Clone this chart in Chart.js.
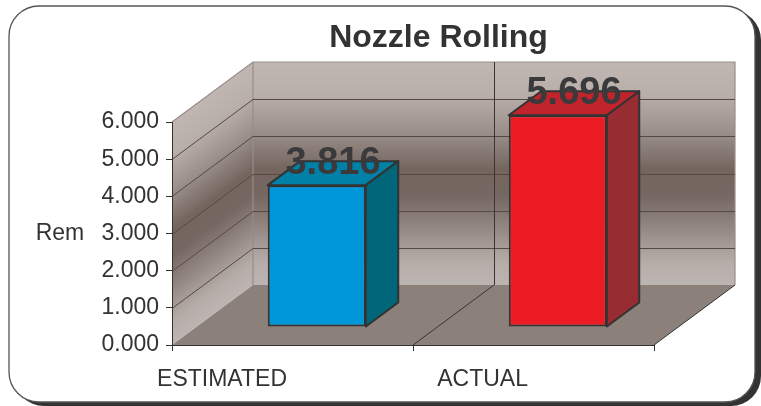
<!DOCTYPE html>
<html>
<head>
<meta charset="utf-8">
<title>Nozzle Rolling</title>
<script src="https://cdn.jsdelivr.net/npm/chart.js@4/dist/chart.umd.min.js"></script>
<style>
  html, body { margin: 0; padding: 0; background: #fff; }
  canvas { display: block; }
</style>
</head>
<body>
<canvas id="chart" width="761" height="406"></canvas>
<script>
// ---- data ----
const chartTitle = 'Nozzle Rolling';
const axisTitle = 'Rem';
const categories = ['ESTIMATED', 'ACTUAL'];
const remValues = [3.816, 5.696];
const yTicks = [0, 1, 2, 3, 4, 5, 6];

// ---- styling ----
const FONT = '"Liberation Sans", Arial, Helvetica, sans-serif';
const TEXT = '#333333';
const barFront = ['#0096DA', '#ED1C24'];
const barTop = ['#0181A8', '#C2242B'];
const barSide = ['#00667A', '#972D33'];
const DEPTH = { dx: 81, dy: -60 };     // offset of the back wall from the front plane
const BAR_NEAR = 0.3, BAR_FAR = 0.7;   // depth slice occupied by the bars

function roundRect(ctx, x, y, w, h, r) {
  ctx.beginPath();
  ctx.moveTo(x + r, y);
  ctx.arcTo(x + w, y, x + w, y + h, r);
  ctx.arcTo(x + w, y + h, x, y + h, r);
  ctx.arcTo(x, y + h, x, y, r);
  ctx.arcTo(x, y, x + w, y, r);
  ctx.closePath();
}

function wallGradient(ctx, y0, y1) {
  const g = ctx.createLinearGradient(0, y0, 0, y1);
  g.addColorStop(0.00, '#c0b7b3');
  g.addColorStop(0.15, '#b8aeaa');
  g.addColorStop(0.32, '#9a8e8a');
  g.addColorStop(0.48, '#74665f');
  g.addColorStop(0.60, '#756761');
  g.addColorStop(0.76, '#978b87');
  g.addColorStop(0.90, '#b6ada9');
  g.addColorStop(1.00, '#bdb5b1');
  return g;
}

// Frame, walls, floor and gridlines behind everything else
const backdrop = {
  id: 'backdrop',
  beforeDraw(chart) {
    const ctx = chart.ctx;
    const xs = chart.scales.x, ys = chart.scales.y;
    const L = xs.left, R = xs.right;
    const yTop = ys.getPixelForValue(ys.max);
    const yBase = ys.getPixelForValue(ys.min);
    const { dx, dy } = DEPTH;

    ctx.save();
    // rounded frame with a dark drop shadow
    ctx.fillStyle = '#333';
    roundRect(ctx, 14, 10, 747, 396, 30);
    ctx.fill();
    ctx.fillStyle = '#fff';
    roundRect(ctx, 9, 6, 746, 396, 30);
    ctx.fill();
    ctx.strokeStyle = '#555';
    ctx.lineWidth = 1.3;
    ctx.stroke();

    // side wall (gradient skewed along the wall)
    ctx.save();
    ctx.transform(1, dy / dx, 0, 1, L, 0);
    ctx.fillStyle = wallGradient(ctx, yTop, yBase);
    ctx.fillRect(0, yTop, dx, yBase - yTop);
    ctx.restore();

    // back wall
    ctx.fillStyle = wallGradient(ctx, yTop + dy, yBase + dy);
    ctx.fillRect(L + dx, yTop + dy, R - L, yBase - yTop);

    // floor
    ctx.fillStyle = '#8c807b';
    ctx.beginPath();
    ctx.moveTo(L, yBase);
    ctx.lineTo(L + dx, yBase + dy);
    ctx.lineTo(R + dx, yBase + dy);
    ctx.lineTo(R, yBase);
    ctx.closePath();
    ctx.fill();

    // light outline of the walls
    ctx.strokeStyle = '#988c88';
    ctx.lineWidth = 1.2;
    ctx.beginPath();
    ctx.moveTo(L, yTop);
    ctx.lineTo(L + dx, yTop + dy);
    ctx.lineTo(R + dx, yTop + dy);
    ctx.lineTo(R + dx, yBase + dy);
    ctx.moveTo(L + dx, yTop + dy);
    ctx.lineTo(L + dx, yBase + dy);
    ctx.stroke();

    // horizontal gridlines on side and back walls
    ctx.strokeStyle = '#544945';
    ctx.lineWidth = 1;
    ys.ticks.forEach(t => {
      if (t.value <= ys.min || t.value >= ys.max) return;
      const py = Math.round(ys.getPixelForValue(t.value)) + 0.5;
      ctx.beginPath();
      ctx.moveTo(L, py);
      ctx.lineTo(L + dx, py + dy);
      ctx.lineTo(R + dx, py + dy);
      ctx.stroke();
    });

    // category dividers on the back wall and floor
    ctx.strokeStyle = '#3b3434';
    for (let i = 0; i < categories.length - 1; i++) {
      const b = (xs.getPixelForValue(i) + xs.getPixelForValue(i + 1)) / 2;
      const bx = Math.round(b + dx) + 0.5;
      ctx.beginPath();
      ctx.moveTo(bx, yTop + dy);
      ctx.lineTo(bx, yBase + dy);
      ctx.moveTo(b, yBase);
      ctx.lineTo(b + dx, yBase + dy);
      ctx.stroke();
    }
    // right edge of the floor
    ctx.strokeStyle = '#333';
    ctx.beginPath();
    ctx.moveTo(R, yBase);
    ctx.lineTo(R + dx, yBase + dy);
    ctx.stroke();
    ctx.restore();
  }
};

// Bars are drawn by Chart.js inside the depth slice, then given a top and a side
const bars3d = {
  id: 'bars3d',
  beforeDatasetsDraw(chart) {
    chart.ctx.save();
    chart.ctx.translate(BAR_NEAR * DEPTH.dx, BAR_NEAR * DEPTH.dy);
  },
  afterDatasetsDraw(chart) {
    const ctx = chart.ctx;
    const meta = chart.getDatasetMeta(0);
    const bdx = (BAR_FAR - BAR_NEAR) * DEPTH.dx;
    const bdy = (BAR_FAR - BAR_NEAR) * DEPTH.dy;
    ctx.lineWidth = 2;
    ctx.lineJoin = 'round';
    ctx.strokeStyle = '#333';
    meta.data.forEach((bar, i) => {
      const { x, y, base, width } = bar.getProps(['x', 'y', 'base', 'width'], true);
      const l = x - width / 2, r = x + width / 2;
      // top face
      ctx.fillStyle = barTop[i];
      ctx.beginPath();
      ctx.moveTo(l, y);
      ctx.lineTo(l + bdx, y + bdy);
      ctx.lineTo(r + bdx, y + bdy);
      ctx.lineTo(r, y);
      ctx.closePath();
      ctx.fill();
      ctx.stroke();
      // side face
      ctx.fillStyle = barSide[i];
      ctx.beginPath();
      ctx.moveTo(r, y);
      ctx.lineTo(r + bdx, y + bdy);
      ctx.lineTo(r + bdx, base + bdy);
      ctx.lineTo(r, base);
      ctx.closePath();
      ctx.fill();
      ctx.stroke();
    });
    ctx.restore();

    // value labels above each bar
    ctx.save();
    ctx.font = 'bold 38px ' + FONT;
    ctx.fillStyle = '#3a3a3c';
    ctx.textAlign = 'center';
    ctx.textBaseline = 'alphabetic';
    meta.data.forEach((bar, i) => {
      const { x, y } = bar.getProps(['x', 'y'], true);
      const v = chart.data.datasets[0].data[i];
      ctx.fillText(v.toFixed(3),
        x + BAR_NEAR * DEPTH.dx + bdx / 2,
        y + BAR_NEAR * DEPTH.dy - 11);
    });
    ctx.restore();
  }
};

// Chart title and horizontal axis title
const captions = {
  id: 'captions',
  afterDraw(chart) {
    const ctx = chart.ctx;
    const ys = chart.scales.y;
    ctx.save();
    ctx.fillStyle = TEXT;
    ctx.textAlign = 'center';
    ctx.textBaseline = 'alphabetic';
    ctx.font = 'bold 32px ' + FONT;
    ctx.fillText(chartTitle, 438.5, 47);
    ctx.font = '23px ' + FONT;
    ctx.textBaseline = 'middle';
    ctx.fillText(axisTitle, 60, ys.getPixelForValue((ys.min + ys.max) / 2));
    ctx.restore();
  }
};

new Chart(document.getElementById('chart'), {
  type: 'bar',
  data: {
    labels: categories,
    datasets: [{
      data: remValues,
      backgroundColor: barFront,
      borderColor: '#333',
      borderWidth: 2,
      borderSkipped: false,
      barPercentage: 0.407,
      categoryPercentage: 1,
      clip: false
    }]
  },
  options: {
    responsive: false,
    animation: false,
    devicePixelRatio: 1,
    layout: { padding: { top: 122, left: 0, right: 107, bottom: 0 } },
    plugins: {
      legend: { display: false },
      title: { display: false },
      tooltip: { enabled: false }
    },
    scales: {
      x: {
        grid: { drawOnChartArea: false, offset: true, tickLength: 6, color: '#333' },
        border: { display: true, color: '#333', width: 1 },
        ticks: {
          font: { family: FONT, size: 23 },
          color: TEXT,
          align: 'end',
          labelOffset: -5.5,
          padding: 15
        },
        afterFit(s) { s.height = 61; }
      },
      y: {
        min: 0,
        max: 6,
        afterBuildTicks(s) { s.ticks = yTicks.map(v => ({ value: v })); },
        grid: { drawOnChartArea: false, tickLength: 6, color: '#333' },
        border: { display: true, color: '#333', width: 1 },
        ticks: {
          font: { family: FONT, size: 23 },
          color: TEXT,
          padding: 7,
          callback: v => Number(v).toFixed(3)
        },
        afterFit(s) { s.width = 172; }
      }
    }
  },
  plugins: [backdrop, bars3d, captions]
});
</script>
</body>
</html>
